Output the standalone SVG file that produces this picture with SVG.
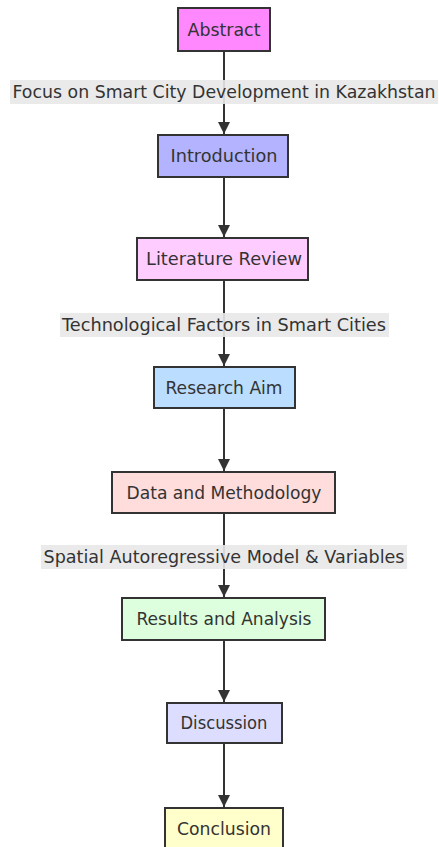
<svg xmlns="http://www.w3.org/2000/svg" width="439" height="847" viewBox="0 0 439 847">
  <defs>
    <marker id="arrow" viewBox="0 0 10 10" refX="10" refY="5" markerWidth="6" markerHeight="6" markerUnits="strokeWidth" orient="auto">
      <path d="M0,0 L10,5 L0,10 z" fill="#333"/>
    </marker>
    <style>
      .node rect { stroke: #333; stroke-width: 2; }
      .node text, .lbl text { font-family: "Trebuchet MS", "DejaVu Sans", sans-serif; font-size: 17.5px; fill: #333; text-anchor: middle; dominant-baseline: central; }
      .edge { stroke: #333; stroke-width: 2; fill: none; marker-end: url(#arrow); }
      .lbl rect { fill: #e8e8e8; opacity: 0.9; }
    </style>
  </defs>
  <rect width="439" height="847" fill="#fff"/>

  <g id="connectors">
    <path class="edge" d="M224,51 V134"/>
    <path class="edge" d="M224,177 V237"/>
    <path class="edge" d="M224,280 V366"/>
    <path class="edge" d="M224,408 V471"/>
    <path class="edge" d="M224,513 V597"/>
    <path class="edge" d="M224,640 V702"/>
    <path class="edge" d="M224,743 V807"/>
    <g class="lbl">
      <rect x="10" y="80" width="428" height="24"/>
      <text x="224" y="92" textLength="423" lengthAdjust="spacingAndGlyphs">Focus on Smart City Development in Kazakhstan</text>
    </g>
    <g class="lbl">
      <rect x="60" y="313" width="329" height="24"/>
      <text x="224" y="325" textLength="324" lengthAdjust="spacingAndGlyphs">Technological Factors in Smart Cities</text>
    </g>
    <g class="lbl">
      <rect x="41" y="545" width="366" height="24"/>
      <text x="224" y="557" textLength="361" lengthAdjust="spacingAndGlyphs">Spatial Autoregressive Model &amp; Variables</text>
    </g>
  </g>

  <g id="abstract" class="node">
    <rect x="178" y="8" width="92" height="43" fill="#ff88ff"/>
    <text x="224" y="29.5" textLength="73" lengthAdjust="spacingAndGlyphs">Abstract</text>
  </g>
  <g id="introduction" class="node">
    <rect x="158" y="135" width="130" height="42" fill="#b3b3ff"/>
    <text x="224" y="156" textLength="107" lengthAdjust="spacingAndGlyphs">Introduction</text>
  </g>
  <g id="literature" class="node">
    <rect x="137" y="238" width="171" height="42" fill="#ffccff"/>
    <text x="224" y="259" textLength="156" lengthAdjust="spacingAndGlyphs">Literature Review</text>
  </g>
  <g id="aim" class="node">
    <rect x="154" y="367" width="141" height="41" fill="#bbddff"/>
    <text x="224" y="387.5" textLength="117" lengthAdjust="spacingAndGlyphs">Research Aim</text>
  </g>
  <g id="methodology" class="node">
    <rect x="112" y="472" width="223" height="41" fill="#ffdddd"/>
    <text x="224" y="492.5" textLength="195" lengthAdjust="spacingAndGlyphs">Data and Methodology</text>
  </g>
  <g id="results" class="node">
    <rect x="122" y="598" width="203" height="42" fill="#ddffdd"/>
    <text x="224" y="619" textLength="175" lengthAdjust="spacingAndGlyphs">Results and Analysis</text>
  </g>
  <g id="discussion" class="node">
    <rect x="167" y="703" width="115" height="40" fill="#ddddff"/>
    <text x="224" y="723" textLength="87" lengthAdjust="spacingAndGlyphs">Discussion</text>
  </g>
  <g id="conclusion" class="node">
    <rect x="165" y="808" width="118" height="42" fill="#ffffcc"/>
    <text x="224" y="829" textLength="94" lengthAdjust="spacingAndGlyphs">Conclusion</text>
  </g>
</svg>
